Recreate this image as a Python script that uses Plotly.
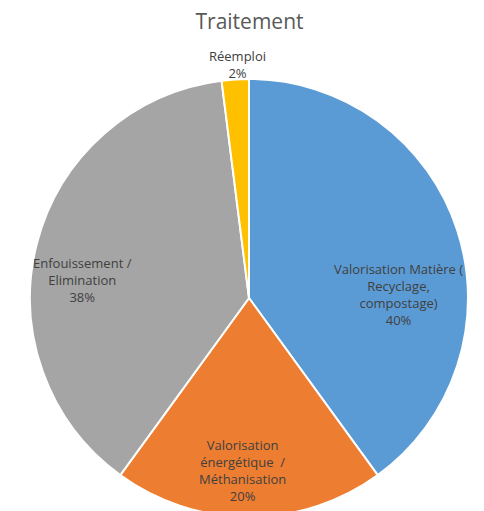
import plotly.graph_objects as go

categories = ["Valorisation Matière ( Recyclage, compostage)",
              "Valorisation énergétique / Méthanisation",
              "Enfouissement / Elimination",
              "Réemploi"]
values = [40, 20, 38, 2]
label_texts = ["Valorisation Matière (<br>Recyclage,<br>compostage)",
               "Valorisation<br>énergétique  /<br>Méthanisation",
               "Enfouissement /<br>Elimination",
               "Réemploi"]
colors = ["#5B9BD5", "#ED7D31", "#A5A5A5", "#FFC000"]

# page body has an 8px margin; coordinates below are in figure pixels
W, H = 484, 530
cx, cy, r = 241, 290, 219

fig = go.Figure(go.Pie(
    labels=categories, values=values, sort=False, direction="clockwise",
    rotation=0, textinfo="none", hoverinfo="label+percent",
    marker=dict(colors=colors, line=dict(color="white", width=2)),
    domain=dict(x=[(cx - r) / W, (cx + r) / W],
                y=[(H - cy - r) / H, (H - cy + r) / H]),
    showlegend=False,
))

label_pos = [(390, 286), (234, 462), (74, 272), (229, 57)]
total = sum(values)
for txt, v, (px, py) in zip(label_texts, values, label_pos):
    fig.add_annotation(
        x=px / W, y=1 - py / H, xref="paper", yref="paper",
        text=f"{txt}<br>{round(100 * v / total)}%",
        showarrow=False, xanchor="center", yanchor="middle",
        font=dict(family="Open Sans, Noto Sans, sans-serif", size=13, color="#404040"),
        align="center",
    )

fig.update_layout(
    width=W, height=H, margin=dict(l=0, r=0, t=0, b=0),
    paper_bgcolor="white", plot_bgcolor="white",
    title=dict(text="Traitement", x=241.5 / W, y=1 - 14 / H, xanchor="center", yanchor="middle",
               font=dict(family="Open Sans, Noto Sans, sans-serif", size=21, color="#595959")),
)
fig.write_html("out.html")
